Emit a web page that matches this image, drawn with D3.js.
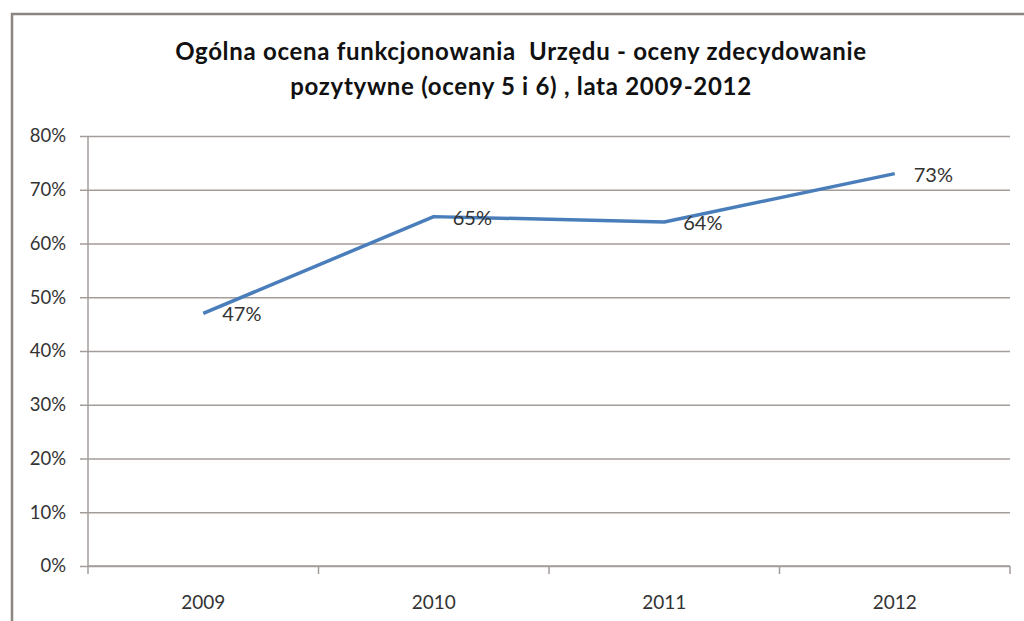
<!DOCTYPE html>
<html>
<head>
<meta charset="utf-8">
<script src="https://cdn.jsdelivr.net/npm/d3@7"></script>
<style>
  body { margin: 0; background: #fff; }
  svg text { font-family: Lato, "Open Sans", sans-serif; }
</style>
</head>
<body>
<div id="chart"></div>
<script>
const years = ['2009', '2010', '2011', '2012'];
const values = [0.47, 0.65, 0.64, 0.73];
const yTicks = [0, 0.1, 0.2, 0.3, 0.4, 0.5, 0.6, 0.7, 0.8];
const titleLines = [
    'Ogólna ocena funkcjonowania  Urzędu - oceny zdecydowanie',
    'pozytywne (oceny 5 i 6) , lata 2009-2012'
];

const width = 1024, height = 621;
const margin = { top: 136, right: 14, bottom: 55, left: 88 };
const innerW = width - margin.left - margin.right;
const innerH = height - margin.top - margin.bottom;

const svg = d3.select('#chart')
    .append('svg')
    .attr('width', width)
    .attr('height', height);

// outer frame (left and top edges visible)
svg.append('path')
    .attr('d', `M12,${height} L12,14 L${width},14`)
    .attr('fill', 'none')
    .attr('stroke', '#8c8683')
    .attr('stroke-width', 2.5);

// title
svg.append('g')
    .selectAll('text')
    .data(titleLines)
    .enter().append('text')
    .attr('x', 521)
    .attr('y', (d, i) => 60 + i * 35)
    .attr('text-anchor', 'middle')
    .style('font-size', '24px')
    .style('font-weight', 'bold')
    .style('letter-spacing', '0.7px')
    .style('white-space', 'pre')
    .style('fill', '#111')
    .text(d => d);

const g = svg.append('g')
    .attr('transform', `translate(${margin.left},${margin.top})`);

const x = d3.scaleBand()
    .domain(years)
    .range([0, innerW]);

const y = d3.scaleLinear()
    .domain([0, 0.8])
    .range([innerH, 0]);

// grid lines
g.append('g')
    .attr('class', 'grid')
    .call(d3.axisLeft(y)
        .tickValues(yTicks)
        .tickSize(-innerW - 8)
        .tickFormat('')
    )
    .attr('transform', 'translate(-8,0)')
    .call(s => s.select('.domain').remove())
    .selectAll('line')
    .attr('stroke', '#a39d9a')
    .attr('stroke-width', 1.5);

// y axis labels
g.append('g')
    .call(d3.axisLeft(y)
        .tickValues(yTicks)
        .tickSize(0)
        .tickPadding(22)
        .tickFormat(d3.format('.0%'))
    )
    .call(s => s.select('.domain').remove())
    .selectAll('text')
    .style('font-size', '18.5px')
    .style('fill', '#333');

// vertical axis line
g.append('line')
    .attr('x1', 0).attr('x2', 0)
    .attr('y1', 0).attr('y2', innerH)
    .attr('stroke', '#a39d9a')
    .attr('stroke-width', 1.5);

// x axis with tick marks between categories
const xAxis = g.append('g')
    .attr('transform', `translate(0,${innerH})`);

xAxis.append('line')
    .attr('x1', 0).attr('x2', innerW)
    .attr('stroke', '#a39d9a')
    .attr('stroke-width', 1.5);

xAxis.selectAll('.tick-mark')
    .data(years.concat(['end']))
    .enter().append('line')
    .attr('class', 'tick-mark')
    .attr('x1', (d, i) => i < years.length ? x(d) : innerW)
    .attr('x2', (d, i) => i < years.length ? x(d) : innerW)
    .attr('y1', 0).attr('y2', 8)
    .attr('stroke', '#a39d9a')
    .attr('stroke-width', 1.5);

xAxis.selectAll('.year')
    .data(years)
    .enter().append('text')
    .attr('class', 'year')
    .attr('x', d => x(d) + x.bandwidth() / 2)
    .attr('y', 43)
    .attr('text-anchor', 'middle')
    .style('font-size', '19px')
    .style('fill', '#333')
    .text(d => d);

const data = years.map((yr, i) => ({ year: yr, value: values[i] }));

const line = d3.line()
    .x(d => x(d.year) + x.bandwidth() / 2)
    .y(d => y(d.value));

g.append('path')
    .datum(data)
    .attr('fill', 'none')
    .attr('stroke', '#4a7ebb')
    .attr('stroke-width', 3.5)
    .attr('stroke-linejoin', 'round')
    .attr('d', line);

// data labels to the right of each point
g.selectAll('.label')
    .data(data)
    .enter().append('text')
    .attr('class', 'label')
    .attr('x', d => x(d.year) + x.bandwidth() / 2 + 19)
    .attr('y', d => y(d.value) + 8)
    .style('font-size', '20px')
    .style('fill', '#333')
    .text(d => d3.format('.0%')(d.value));
</script>
</body>
</html>
